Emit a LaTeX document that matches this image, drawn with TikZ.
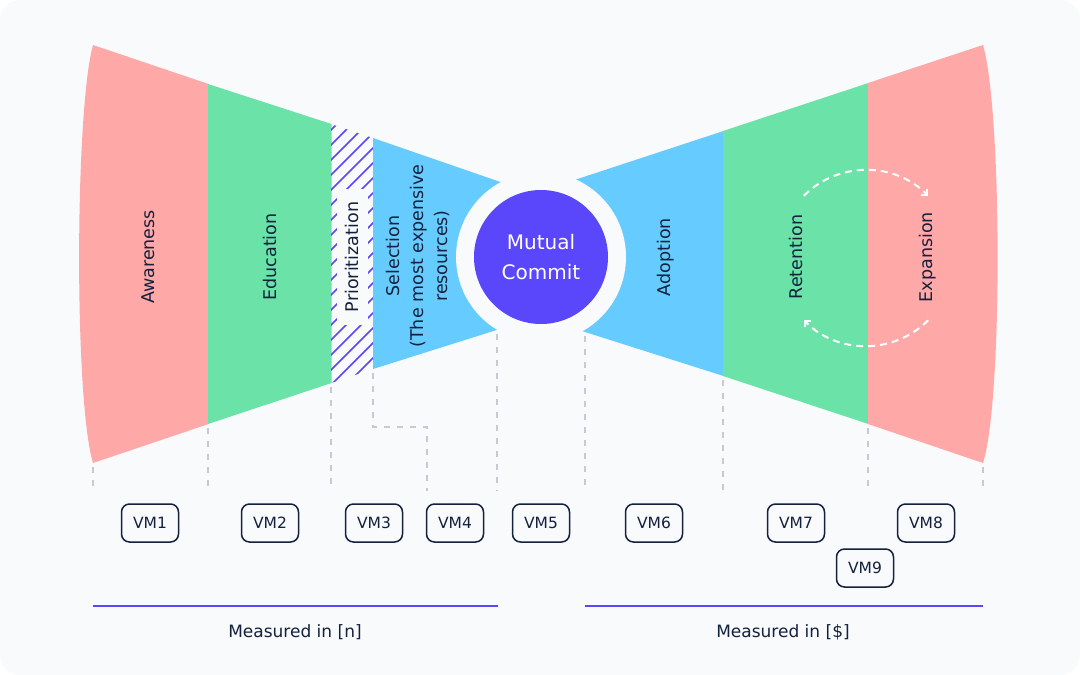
\documentclass[tikz,border=0pt]{standalone}
\usepackage{fontspec}
\setmainfont{DejaVu Sans}
\usetikzlibrary{arrows.meta}
\definecolor{bg}{HTML}{F8FAFC}
\definecolor{pinkc}{HTML}{FFA8A8}
\definecolor{greenc}{HTML}{6BE3A8}
\definecolor{bluec}{HTML}{66CCFF}
\definecolor{purp}{HTML}{5B47FB}
\definecolor{navy}{HTML}{14213D}
\definecolor{dashgray}{HTML}{C5CAD3}
\begin{document}
\begin{tikzpicture}[x=1pt,y=-1pt,
  lbl/.style={rotate=90, text=navy, font=\fontsize{17.5}{24}\selectfont, align=center},
  vm/.style={draw=navy, line width=1.5pt, rounded corners=8pt, minimum width=57pt,
    minimum height=38pt, inner sep=0pt, font=\fontsize{15.5}{16}\selectfont, text=navy, fill=bg},
  guide/.style={dashgray, line width=2pt, dash pattern=on 6pt off 7pt},
  loopar/.style={white, line width=2pt, dash pattern=on 7pt off 5pt,
    -{Straight Barb[angle=90:6pt, line cap=butt, line join=miter]}},
  meas/.style={purp, line width=1.5pt},
  mtext/.style={text=navy, font=\fontsize{17}{20}\selectfont}
]
\useasboundingbox (0,0) rectangle (1080,675);
\fill[white] (0,0) rectangle (1080,675);
\fill[bg, rounded corners=20pt] (0,0) rectangle (1080,675);

% funnel left
\fill[pinkc] (93,45) .. controls (75,110) and (74,400) .. (93,463) -- (208.5,424) -- (208.5,84) -- cycle;
\fill[greenc] (208,84) -- (331.5,124) -- (331.5,383) -- (208,424) -- cycle;
\begin{scope}
  \clip (331,124) -- (373,138) -- (373,369) -- (331,383) -- cycle;
  \foreach \t in {-300,-285,...,60} {
    \draw[purp, line width=1.5pt] (331+\t,400) -- (331+\t+300,100);
  }
\end{scope}
\node[lbl, fill=bg, minimum height=31pt, inner xsep=13pt, inner ysep=0pt] (prio) at (352,257) {Prioritization};
\fill[bluec] (373,138) -- (541,196) -- (541,316) -- (373,369) -- cycle;

% funnel right
\fill[bluec] (541,191) -- (723.5,131) -- (723.5,376) -- (541,318) -- cycle;
\fill[greenc] (723,131) -- (868.5,83) -- (868.5,424) -- (723,376) -- cycle;
\fill[pinkc] (868,83) -- (983,45) .. controls (1002,110) and (1003,400) .. (983,463) -- (868,424) -- cycle;

% center
\fill[bg] (541,257) circle[radius=85];
\node[circle, fill=purp, minimum size=134pt, inner sep=0pt, text=white,
  font=\fontsize{20}{30}\selectfont, align=center] (mc) at (541,257) {Mutual\\Commit};

% labels
\node[lbl] (aw) at (148,257) {Awareness};
\node[lbl] (ed) at (270,257) {Education};
\node[lbl] (sel) at (418,256) {Selection\\(The most expensive\\resources)};
\node[lbl] (ad) at (666,257) {Adoption};
\node[lbl] (re) at (796,257) {Retention};
\node[lbl] (ex) at (928,257) {Expansion};

% loop arrows
\coordinate (lc) at (866,258);
\draw[loopar] (lc) ++(225:88) arc[start angle=225, end angle=315, radius=88];
\draw[loopar] (lc) ++(45:88) arc[start angle=45, end angle=135, radius=88];

% guides
\coordinate (g1) at (93,467);   \coordinate (h1) at (93,491);
\coordinate (g2) at (208,428);  \coordinate (h2) at (208,491);
\coordinate (g3) at (331,387);  \coordinate (h3) at (331,491);
\coordinate (g4) at (373,373);  \coordinate (k4) at (373,427); \coordinate (m4) at (427,427); \coordinate (h4) at (427,491);
\coordinate (g5) at (497,334);  \coordinate (h5) at (497,491);
\coordinate (g6) at (585,336);  \coordinate (h6) at (585,491);
\coordinate (g7) at (723,380);  \coordinate (h7) at (723,491);
\coordinate (g8) at (868,428);  \coordinate (h8) at (868,491);
\coordinate (g9) at (983,467);  \coordinate (h9) at (983,491);
\draw[guide] (g1) -- (h1);
\draw[guide] (g2) -- (h2);
\draw[guide] (g3) -- (h3);
\draw[guide] (g4) -- (k4) -- (m4) -- (h4);
\draw[guide] (g5) -- (h5);
\draw[guide] (g6) -- (h6);
\draw[guide] (g7) -- (h7);
\draw[guide] (g8) -- (h8);
\draw[guide] (g9) -- (h9);

% VM boxes
\node[vm] (vm1) at (150,523) {VM1};
\node[vm] (vm2) at (270,523) {VM2};
\node[vm] (vm3) at (374,523) {VM3};
\node[vm] (vm4) at (455,523) {VM4};
\node[vm] (vm5) at (541,523) {VM5};
\node[vm] (vm6) at (654,523) {VM6};
\node[vm] (vm7) at (796,523) {VM7};
\node[vm] (vm8) at (926,523) {VM8};
\node[vm] (vm9) at (865,568) {VM9};

% measured
\coordinate (l1a) at (93,606); \coordinate (l1b) at (498,606);
\coordinate (l2a) at (585,606); \coordinate (l2b) at (983,606);
\draw[meas] (l1a) -- (l1b);
\draw[meas] (l2a) -- (l2b);
\node[mtext] (mn) at (295,632) {Measured in [n]};
\node[mtext] (md) at (783,632) {Measured in [\$]};
\end{tikzpicture}
\end{document}
